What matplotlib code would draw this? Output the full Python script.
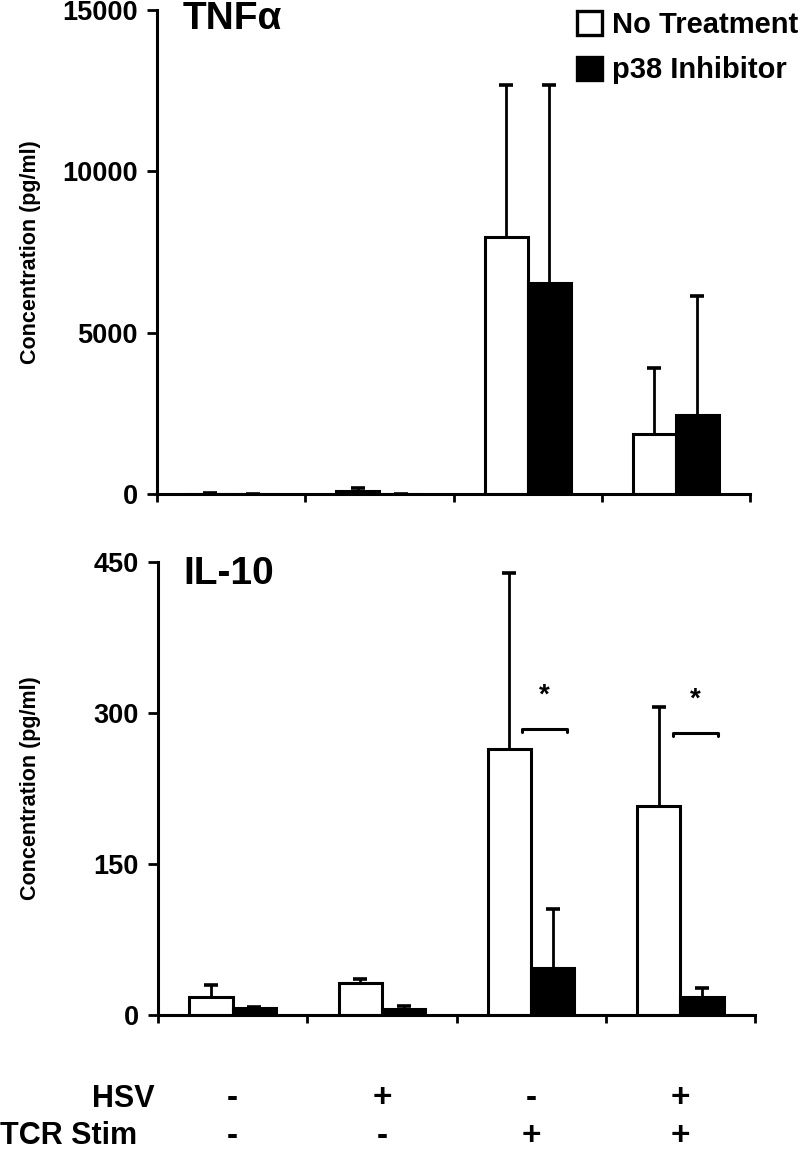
import numpy as np
import matplotlib
matplotlib.use("Agg")
import matplotlib.pyplot as plt
from matplotlib.patches import Patch
from matplotlib.transforms import blended_transform_factory

plt.rcParams['font.family'] = ['Liberation Sans', 'DejaVu Sans']

# Data
hsv_row = ['-', '+', '-', '+']
tcr_row = ['-', '-', '+', '+']
series_names = ['No Treatment', 'p38 Inhibitor']

tnf_none = [15, 90, 7950, 1850]
tnf_none_err = [5, 90, 4740, 2050]
tnf_p38 = [10, 15, 6550, 2450]
tnf_p38_err = [3, 0, 6125, 3690]

il10_none = [18, 32, 264, 208]
il10_none_err = [12, 4, 175, 98]
il10_p38 = [7, 6, 47, 18]
il10_p38_err = [1, 3, 58, 9]

tnf_ticks = [0, 5000, 10000, 15000]
il10_ticks = [0, 150, 300, 450]

# significance brackets on IL-10 panel: (x start, x end, y, star y)
sig_brackets = [(1.94, 2.24, 284, 317), (2.95, 3.25, 280, 313)]

fig = plt.figure(figsize=(8, 11.54), dpi=100)
ax1 = fig.add_axes([157 / 800, 1 - 494 / 1154, 593 / 800, 484 / 1154])
ax2 = fig.add_axes([158 / 800, 1 - 1015 / 1154, 597 / 800, 453 / 1154])

x = np.arange(4)
w = 0.29
lw = 2.2


def draw_panel(ax, none, none_err, p38, p38_err, ticks):
    ekw = dict(elinewidth=2.0, capthick=2.6, ecolor='black')
    for offset, vals, errs, fc in [(-w / 2, none, none_err, 'white'),
                                   (w / 2, p38, p38_err, 'black')]:
        bars = ax.bar(x + offset, vals, w, color=fc, edgecolor='black', linewidth=lw,
                      yerr=[np.zeros(4), errs], capsize=4.7, error_kw=ekw, zorder=2)
        # one-sided error bars: hide the lower caps sitting on the bar tops
        caplines = bars.errorbar.lines[1]
        caplines[0].set_visible(False)
    ax.set_xlim(-0.5, 3.5)
    ax.set_ylim(ticks[0], ticks[-1])
    ax.set_yticks(ticks)
    ax.set_yticklabels([str(t) for t in ticks], fontsize=19.5, fontweight='bold')
    ax.set_xticks([-0.5, 0.5, 1.5, 2.5, 3.5])
    ax.set_xticklabels([])
    for s in ['top', 'right']:
        ax.spines[s].set_visible(False)
    for s in ['left', 'bottom']:
        ax.spines[s].set_linewidth(lw)
    ax.tick_params(axis='y', direction='out', length=7, width=2, pad=7)
    ax.tick_params(axis='x', direction='out', length=6, width=2)
    ax.set_ylabel('Concentration (pg/ml)', fontsize=15.5, fontweight='bold')
    ax.yaxis.label.set_va('center')
    ax.yaxis.set_label_coords(-0.214, 0.5)


draw_panel(ax1, tnf_none, tnf_none_err, tnf_p38, tnf_p38_err, tnf_ticks)
draw_panel(ax2, il10_none, il10_none_err, il10_p38, il10_p38_err, il10_ticks)

# panel titles
fig.text(183 / 800, 1 - 29 / 1154, 'TNF\u03b1', fontsize=28, fontweight='bold', va='baseline')
fig.text(183 / 800, 1 - 584 / 1154, 'IL-10', fontsize=28, fontweight='bold', va='baseline')

# significance marks
for x0, x1, y, ys in sig_brackets:
    ax2.plot([x0, x0, x1, x1], [y - 3, y, y, y - 3], color='black', lw=2.2,
             solid_capstyle='round')
    ax2.text((x0 + x1) / 2, ys, '*', ha='center', va='center', fontsize=20,
             fontweight='bold')

# legend
handles = [Patch(facecolor='white', edgecolor='black', linewidth=2.4),
           Patch(facecolor='black', edgecolor='black', linewidth=2.4)]
fig.legend(handles, series_names, loc='upper left',
           bbox_to_anchor=(577 / 800, 1 - 11 / 1154), frameon=False,
           prop=dict(size=21, weight='bold'), handlelength=0.85, handleheight=0.85,
           handletextpad=0.35, labelspacing=0.6, borderpad=0, borderaxespad=0)

# condition table below
tr = blended_transform_factory(ax2.transData, fig.transFigure)
fig.text(155 / 800, 1 - 1099 / 1154, 'HSV', ha='right', va='center', fontsize=22,
         fontweight='bold')
fig.text(137 / 800, 1 - 1136 / 1154, 'TCR Stim', ha='right', va='center', fontsize=22,
         fontweight='bold')
for i in range(4):
    ax2.text(x[i], 1 - 1099 / 1154, hsv_row[i], transform=tr, ha='center', va='center',
             fontsize=24, fontweight='bold')
    ax2.text(x[i], 1 - 1136 / 1154, tcr_row[i], transform=tr, ha='center', va='center',
             fontsize=24, fontweight='bold')

fig.savefig('out.png', dpi=100)
